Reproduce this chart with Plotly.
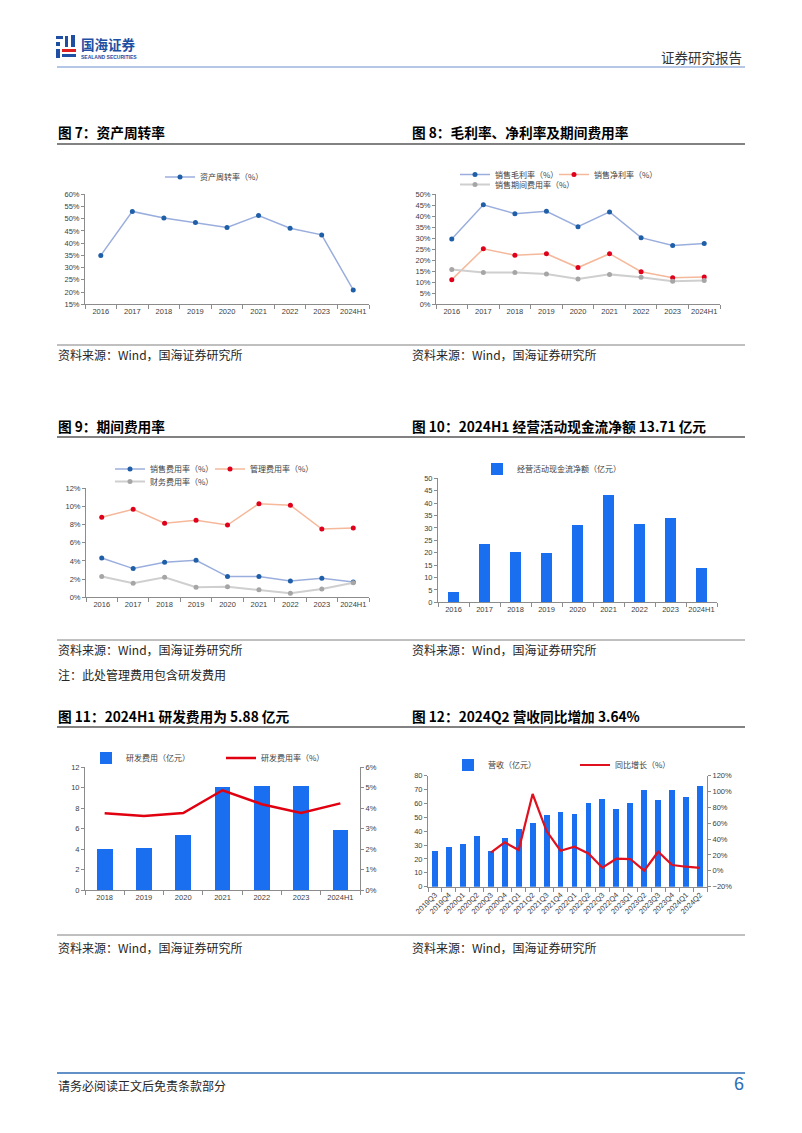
import plotly.graph_objects as go

# The page body adds an 8 px margin, so the figure is drawn 8 px in from the
# window's top-left corner; reference pixel positions are converted accordingly.
OFF = 8
W, H = 802 - OFF, 1133 - OFF
def fx(px): return (px - OFF) / W
def fy(py): return 1 - (py - OFF) / H

# ---------------- data ----------------
years = ["2016", "2017", "2018", "2019", "2020", "2021", "2022", "2023", "2024H1"]
asset_turnover = [35.0, 53.0, 50.3, 48.5, 46.4, 51.3, 46.1, 43.4, 20.9]
gross_margin = [29.7, 45.2, 41.2, 42.3, 35.3, 42.0, 30.3, 26.7, 27.6]
net_margin = [11.2, 25.2, 22.3, 23.0, 16.7, 23.0, 14.8, 12.1, 12.4]
period_exp_rate = [15.8, 14.5, 14.4, 13.8, 11.5, 13.6, 12.3, 10.5, 10.8]
sales_exp_rate = [4.33, 3.16, 3.85, 4.07, 2.28, 2.28, 1.80, 2.09, 1.69]
mgmt_exp_rate = [8.81, 9.69, 8.15, 8.48, 7.96, 10.31, 10.13, 7.52, 7.63]
fin_exp_rate = [2.28, 1.54, 2.20, 1.10, 1.17, 0.84, 0.44, 0.92, 1.61]
op_cashflow = [4.0, 23.5, 20.2, 19.8, 30.9, 43.0, 31.6, 33.7, 13.71]
rd_years = ["2018", "2019", "2020", "2021", "2022", "2023", "2024H1"]
rd_expense = [3.97, 4.10, 5.37, 10.05, 10.11, 10.11, 5.88]
rd_rate = [3.76, 3.63, 3.77, 4.88, 4.20, 3.77, 4.24]
quarters = ["2019Q3", "2019Q4", "2020Q1", "2020Q2", "2020Q3", "2020Q4",
            "2021Q1", "2021Q2", "2021Q3", "2021Q4", "2022Q1", "2022Q2",
            "2022Q3", "2022Q4", "2023Q1", "2023Q2", "2023Q3", "2023Q4",
            "2024Q1", "2024Q2"]
revenue = [25.7, 29.1, 30.8, 36.5, 26.2, 35.6, 41.8, 46.4, 51.7, 54.1,
           52.9, 60.5, 63.2, 56.2, 60.5, 69.7, 62.7, 70.2, 64.9, 72.8]
revenue_yoy = [None, None, None, None, 22.9, 35.9, 26.2, 96.9, 50.2, 25.4,
               30.5, 22.0, 4.0, 15.3, 14.9, 0.2, 24.1, 7.3, 5.2, 3.64]

# ---------------- styles ----------------
CJK = "Noto Sans CJK SC"
NUM = "Liberation Sans"
AX = "#8c8c8c"
TICKFONT = dict(size=7.5, color="#404040", family=NUM)
BAR = "#1A6EF0"
BLUE_LINE, BLUE_MK = "#9AAEDD", "#1F5FA8"
RED_LINE, RED_MK = "#F5B89A", "#E0001B"
GRAY_LINE, GRAY_MK = "#CFCFCF", "#A6A6A6"

fig = go.Figure()

def xaxis(x0, x1, anchor, n, **kw):
    d = dict(domain=[fx(x0), fx(x1)], anchor=anchor, type="category",
             range=[-0.5, n - 0.5], showline=True, linecolor=AX, linewidth=1,
             ticks="outside", tickson="boundaries", ticklen=4, tickcolor=AX,
             tickfont=TICKFONT, showgrid=False, zeroline=False, fixedrange=True,
             tickangle=0, automargin=False)
    d.update(kw)
    return d

def yaxis(ytop, ybot, anchor, rng, dtick, suffix="", **kw):
    d = dict(domain=[fy(ybot), fy(ytop)], anchor=anchor, range=rng, dtick=dtick,
             tick0=rng[0], ticksuffix=suffix, showline=True, linecolor=AX,
             linewidth=1, ticks="outside", ticklen=3, tickcolor=AX,
             tickfont=TICKFONT, showgrid=False, zeroline=False, fixedrange=True,
             automargin=False)
    d.update(kw)
    return d

def legend_at(text_x, y):
    return dict(x=fx(text_x - 40), y=fy(y), xanchor="left", yanchor="middle",
                bgcolor="rgba(0,0,0,0)", borderwidth=0, itemwidth=30,
                font=dict(size=8, family=CJK, color="#404040"))

def line_trace(x, y, name, lc, mc, xa, ya, leg, lw=1.5, ms=5):
    return go.Scatter(x=x, y=y, name=name, mode="lines+markers",
                      line=dict(color=lc, width=lw),
                      marker=dict(color=mc, size=ms),
                      xaxis=xa, yaxis=ya, legend=leg, showlegend=True)

# Chart 7
fig.add_trace(line_trace(years, asset_turnover, "资产周转率（%）", BLUE_LINE, BLUE_MK, "x", "y", "legend"))
# Chart 8
fig.add_trace(line_trace(years, gross_margin, "销售毛利率（%）", BLUE_LINE, BLUE_MK, "x2", "y2", "legend2"))
fig.add_trace(line_trace(years, net_margin, "销售净利率（%）", RED_LINE, RED_MK, "x2", "y2", "legend3"))
fig.add_trace(line_trace(years, period_exp_rate, "销售期间费用率（%）", GRAY_LINE, GRAY_MK, "x2", "y2", "legend4", lw=2))
# Chart 9
fig.add_trace(line_trace(years, sales_exp_rate, "销售费用率（%）", BLUE_LINE, BLUE_MK, "x3", "y3", "legend5"))
fig.add_trace(line_trace(years, mgmt_exp_rate, "管理费用率（%）", RED_LINE, RED_MK, "x3", "y3", "legend6"))
fig.add_trace(line_trace(years, fin_exp_rate, "财务费用率（%）", GRAY_LINE, GRAY_MK, "x3", "y3", "legend7", lw=2))
# Chart 10
fig.add_trace(go.Bar(x=years, y=op_cashflow, name="经营活动现金流净额（亿元）",
                     marker=dict(color=BAR, line=dict(width=0)), width=0.38,
                     xaxis="x4", yaxis="y4", legend="legend8"))
# Chart 11
fig.add_trace(go.Bar(x=rd_years, y=rd_expense, name="研发费用（亿元）",
                     marker=dict(color=BAR, line=dict(width=0)), width=0.4,
                     xaxis="x5", yaxis="y5", legend="legend9"))
fig.add_trace(go.Scatter(x=rd_years, y=rd_rate, name="研发费用率（%）", mode="lines",
                         line=dict(color="#E00010", width=2.5),
                         xaxis="x5", yaxis="y7", legend="legend10"))
# Chart 12
fig.add_trace(go.Bar(x=quarters, y=revenue, name="营收（亿元）",
                     marker=dict(color=BAR, line=dict(width=0)), width=0.42,
                     xaxis="x6", yaxis="y6", legend="legend11"))
fig.add_trace(go.Scatter(x=quarters, y=revenue_yoy, name="同比增长（%）", mode="lines",
                         line=dict(color="#E0101E", width=2.2), connectgaps=False,
                         xaxis="x6", yaxis="y8", legend="legend12"))

layout = dict(
    template="none",
    width=W, height=H, margin=dict(l=0, r=0, t=0, b=0, pad=0, autoexpand=False),
    paper_bgcolor="white", plot_bgcolor="white",
    font=dict(family=CJK), bargap=0,
    xaxis=xaxis(85, 369, "y", 9),
    yaxis=yaxis(194.3, 304.3, "x", [15, 60], 5, "%"),
    xaxis2=xaxis(436, 720, "y2", 9),
    yaxis2=yaxis(194.3, 304.3, "x2", [0, 50], 5, "%"),
    xaxis3=xaxis(86, 369, "y3", 9),
    yaxis3=yaxis(488.3, 597.3, "x3", [0, 12], 2, "%"),
    xaxis4=xaxis(438, 717, "y4", 9),
    yaxis4=yaxis(478.3, 602.3, "x4", [0, 50], 5),
    xaxis5=xaxis(85, 360, "y5", 7),
    yaxis5=yaxis(767.3, 890.3, "x5", [0, 12], 2),
    yaxis7=yaxis(767.3, 890.3, "x5", [0, 6], 1, "%", overlaying="y5", side="right"),
    xaxis6=xaxis(428, 707, "y6", 20, tickangle=-45, tickfont=dict(size=7.5, color="#404040", family=NUM)),
    yaxis6=yaxis(775.7, 886.7, "x6", [0, 80], 10),
    yaxis8=yaxis(775.7, 886.7, "x6", [-20, 120], 20, "%", overlaying="y6", side="right"),
    legend=legend_at(200, 177),
    legend2=legend_at(495, 174.5),
    legend3=legend_at(594, 174.5),
    legend4=legend_at(495, 184.5),
    legend5=legend_at(150, 469),
    legend6=legend_at(250, 469),
    legend7=legend_at(150, 481.5),
    legend8=legend_at(517, 469),
    legend9=legend_at(126, 758),
    legend10=legend_at(261, 758),
    legend11=legend_at(488, 765),
    legend12=legend_at(615, 765),
)
fig.update_layout(**layout)

# ---------------- static page text ----------------
ann = []
def text(x, y, s, size=11.5, color="#262626", anchor="left", bold=False, family=CJK):
    ann.append(dict(x=fx(x), y=fy(y), xref="paper", yref="paper", text=("<b>%s</b>" % s) if bold else s,
                    showarrow=False, xanchor=anchor, yanchor="middle", borderpad=0,
                    font=dict(size=size, color=color, family=family)))

text(80, 43.5, "国海证券", size=13.5, color="#1E4FA3", bold=True)
text(80, 57, "SEALAND SECURITIES", size=5, color="#1E4FA3", bold=True, family=NUM)
text(743, 57, "证券研究报告", size=13.5, color="#333333", anchor="right")

titles = [(57, 132, "图 7：资产周转率"), (411, 132, "图 8：毛利率、净利率及期间费用率"),
          (57, 426, "图 9：期间费用率"), (411, 426, "图 10：2024H1 经营活动现金流净额 13.71 亿元"),
          (57, 716, "图 11：2024H1 研发费用为 5.88 亿元"), (411, 716, "图 12：2024Q2 营收同比增加 3.64%")]
for x, y, s in titles:
    text(x, y, s, size=13.7, color="#000000", bold=True)

for y in (354, 649, 947):
    text(57, y, "资料来源：Wind，国海证券研究所", size=12)
    text(411, y, "资料来源：Wind，国海证券研究所", size=12)
text(57, 674, "注：此处管理费用包含研发费用", size=12)
text(57, 1085, "请务必阅读正文后免责条款部分", size=12)
text(745, 1084, "6", size=18, color="#2E6DB4", anchor="right", family=NUM)

shapes = []
def hline(y, color, width, x0=57, x1=745):
    shapes.append(dict(type="line", xref="paper", yref="paper", x0=fx(x0), x1=fx(x1),
                       y0=fy(y), y1=fy(y), line=dict(color=color, width=width)))
def rect(x0, y0, x1, y1, color):
    shapes.append(dict(type="rect", xref="paper", yref="paper", x0=fx(x0), x1=fx(x1),
                       y0=fy(y1), y1=fy(y0), line=dict(width=0), fillcolor=color))

hline(67, "#B4C7E7", 2)
for y in (144, 437, 727):
    hline(y, "#595959", 1.5)
for y in (345, 640, 935):
    hline(y, "#808080", 1)
hline(1073, "#2E6DB4", 1.5)

# page border (right edge)
shapes.append(dict(type="line", xref="paper", yref="paper", x0=fx(801.5), x1=fx(801.5), y0=0, y1=1,
                   line=dict(color="#9a9a9a", width=1)))

# logo icon
rect(56, 36, 63, 39, "#1E4FA3")
rect(56, 42, 60, 46, "#1E4FA3")
rect(56, 49, 60, 58, "#1E4FA3")
rect(65, 36, 68, 47, "#1E4FA3")
rect(71, 35, 75, 47, "#1E4FA3")
rect(62, 49, 76, 52, "#E0201E")
rect(62, 54, 76, 57, "#1E4FA3")

fig.update_layout(annotations=ann, shapes=shapes)
fig.write_html("out.html")
